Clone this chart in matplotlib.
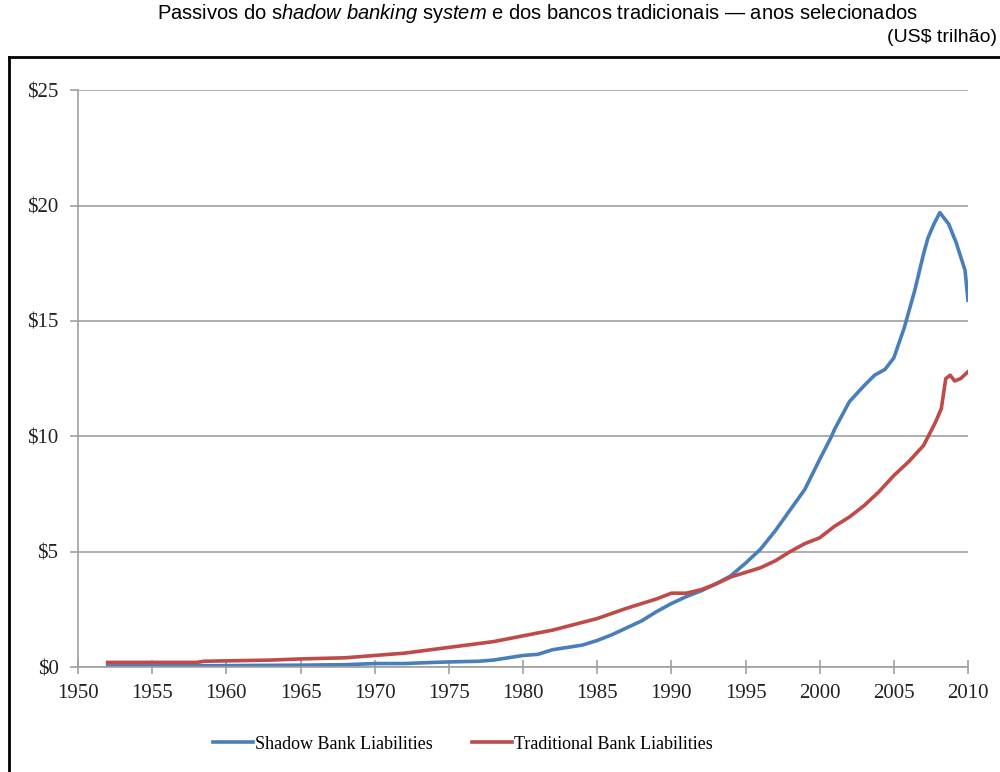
import matplotlib
matplotlib.use("Agg")
import matplotlib.pyplot as plt
from matplotlib.lines import Line2D

# valores (US$ trilhão)
shadow_years = [1952, 1955, 1960, 1965, 1968, 1970, 1972, 1974, 1975, 1977, 1978, 1979,
                1980, 1981, 1982, 1983, 1984, 1985, 1986, 1987, 1988, 1989, 1990, 1991,
                1992, 1993, 1994, 1995, 1996, 1997, 1998, 1999, 2000, 2000.8, 2001, 2002,
                2003, 2003.7, 2004.4, 2005, 2005.7, 2006.4, 2007, 2007.3, 2007.7, 2008.1,
                2008.7, 2009.2, 2009.6, 2009.8, 2010]
shadow_vals = [0.05, 0.05, 0.06, 0.08, 0.1, 0.15, 0.15, 0.2, 0.22, 0.25, 0.3, 0.4,
               0.5, 0.55, 0.75, 0.85, 0.95, 1.15, 1.4, 1.7, 2.0, 2.4, 2.75, 3.05,
               3.3, 3.6, 3.95, 4.5, 5.1, 5.9, 6.8, 7.7, 9.0, 10.0, 10.3, 11.5,
               12.2, 12.65, 12.9, 13.4, 14.7, 16.3, 17.9, 18.6, 19.2, 19.7,
               19.2, 18.4, 17.6, 17.2, 15.9]

trad_years = [1952, 1958, 1958.5, 1963, 1965, 1968, 1970, 1972, 1975, 1978, 1980, 1982,
              1985, 1987, 1989, 1990, 1991, 1992, 1993, 1994, 1995, 1996, 1997, 1998,
              1999, 2000, 2001, 2002, 2003, 2004, 2005, 2006, 2007, 2007.8, 2008.2,
              2008.5, 2008.8, 2009.1, 2009.5, 2010]
trad_vals = [0.2, 0.2, 0.25, 0.3, 0.35, 0.4, 0.5, 0.6, 0.85, 1.1, 1.35, 1.6,
             2.1, 2.55, 2.95, 3.2, 3.2, 3.35, 3.6, 3.9, 4.1, 4.3, 4.6, 5.0,
             5.35, 5.6, 6.1, 6.5, 7.0, 7.6, 8.3, 8.9, 9.6, 10.6, 11.2,
             12.5, 12.65, 12.4, 12.5, 12.8]

x_ticks = list(range(1950, 2011, 5))
y_ticks = [0, 5, 10, 15, 20, 25]
y_labels = ["$0", "$5", "$10", "$15", "$20", "$25"]

BLUE = "#4a7ebb"
RED = "#be4b48"
GRID = "#a0a0a0"

plt.rcParams["mathtext.fontset"] = "custom"
plt.rcParams["mathtext.rm"] = "Liberation Sans"
plt.rcParams["mathtext.it"] = "Liberation Sans:italic"

fig = plt.figure(figsize=(10, 7.72), dpi=100)
ax = fig.add_axes([0.078, 0.136, 0.890, 0.747])

ax.plot(shadow_years, shadow_vals, color=BLUE, lw=2.6, label="Shadow Bank Liabilities")
ax.plot(trad_years, trad_vals, color=RED, lw=2.6, label="Traditional Bank Liabilities")

ax.set_xlim(1950, 2010)
ax.set_ylim(0, 25)
ax.set_xticks(x_ticks)
ax.set_yticks(y_ticks)
ax.set_yticklabels(y_labels)
ax.grid(axis="y", color=GRID, lw=1.2)
ax.set_axisbelow(True)
for side in ["top", "right"]:
    ax.spines[side].set_visible(False)
for side in ["left", "bottom"]:
    ax.spines[side].set_color(GRID)
    ax.spines[side].set_linewidth(1.2)
ax.tick_params(axis="x", direction="inout", length=10, color=GRID, width=1.2, pad=7)
ax.tick_params(axis="y", direction="out", length=6, color=GRID, width=1.2, pad=8)
for lab in ax.get_xticklabels() + ax.get_yticklabels():
    lab.set_fontfamily("Liberation Serif")
    lab.set_fontsize(15)
    lab.set_color("#222222")

handles = [Line2D([0], [0], color=BLUE, lw=2.6), Line2D([0], [0], color=RED, lw=2.6)]
fig.legend(handles, ["Shadow Bank Liabilities", "Traditional Bank Liabilities"],
           loc="center", bbox_to_anchor=(0.463, 0.036), ncol=2, frameon=False,
           prop={"family": "Liberation Serif", "size": 13}, handlelength=2.2,
           handletextpad=0.1, columnspacing=2.2)

fig.text(0.537, 0.983,
         r"Passivos do s$\it{hadow\ banking}$ sy$\it{stem}$ e dos bancos tradicionais — anos selecionados",
         ha="center", va="center", fontsize=14.5, family="Liberation Sans")
fig.text(0.997, 0.952, "(US$ trilhão)", ha="right", va="center", fontsize=14,
         family="Liberation Sans")

# moldura (só topo e esquerda aparecem no recorte)
fig.add_artist(Line2D([0.009, 1.0], [0.926, 0.926], color="black", lw=2))
fig.add_artist(Line2D([0.009, 0.009], [0.0, 0.926], color="black", lw=2))

fig.savefig("out.png", dpi=100)
